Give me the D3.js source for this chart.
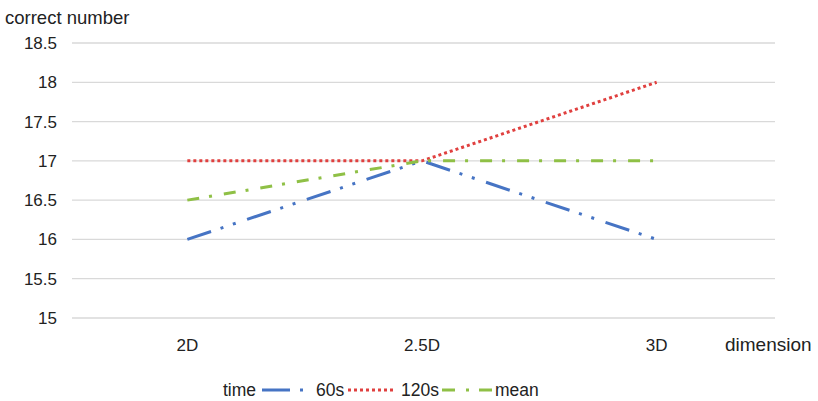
<!DOCTYPE html>
<html>
<head>
<meta charset="utf-8">
<script src="https://cdn.jsdelivr.net/npm/d3@7"></script>
<style>
  body { margin: 0; background: #fff; }
  text { font-family: "Liberation Sans", Arial, sans-serif; fill: #222; }
</style>
</head>
<body>
<svg id="chart" width="818" height="401"></svg>
<script>
// Categories along the horizontal axis
const categories = ["2D", "2.5D", "3D"];
// Correct-answer counts per time condition
const series60 = [16, 17, 16];
const series120 = [17, 17, 18];
const seriesMean = [16.5, 17, 17];
const seriesNames = ["60s", "120s", "mean"];
// Value-axis ticks
const yTicks = [15, 15.5, 16, 16.5, 17, 17.5, 18, 18.5];

const svg = d3.select("#chart");
const plotLeft = 72, plotRight = 775, plotTop = 43, plotBottom = 318;

const x = d3.scaleBand().domain(categories).range([70, 774]);
const y = d3.scaleLinear().domain([15, 18.5]).range([plotBottom, plotTop]);

// Gridlines
svg.append("g").selectAll("line").data(yTicks).join("line")
  .attr("x1", plotLeft).attr("x2", plotRight)
  .attr("y1", d => y(d)).attr("y2", d => y(d))
  .attr("stroke", "#d9d9d9").attr("stroke-width", 1.3);

// Y-axis labels
const yAxis = d3.axisLeft(y).tickValues(yTicks).tickSize(0).tickPadding(0)
  .tickFormat(d => String(d));
const gy = svg.append("g").attr("transform", "translate(57,0)").call(yAxis);
gy.select(".domain").remove();
gy.selectAll("text").attr("font-size", 17).attr("fill", "#222")
  .style("font-family", "'Liberation Sans', Arial, sans-serif");

// X-axis labels
const xAxis = d3.axisBottom(x).tickSize(0).tickPadding(0);
const gx = svg.append("g").attr("transform", "translate(0,339)").call(xAxis);
gx.select(".domain").remove();
gx.selectAll("text").attr("font-size", 17).attr("fill", "#222")
  .style("font-family", "'Liberation Sans', Arial, sans-serif");

// Axis titles
svg.append("text").attr("x", 5).attr("y", 24).attr("font-size", 18.5)
  .text("correct number");
svg.append("text").attr("x", 725).attr("y", 351).attr("font-size", 19)
  .text("dimension");

const styles = [
  { data: series60, color: "#4674c4", dash: "25 10 3 10 3 12" },
  { data: series120, color: "#e0403f", dash: "3 3" },
  { data: seriesMean, color: "#8fc046", dash: "12 10 3 12" }
];

const line = d3.line()
  .x((d, i) => x(categories[i]) + x.bandwidth() / 2)
  .y(d => y(d));

styles.forEach(s => {
  svg.append("path").datum(s.data)
    .attr("d", line)
    .attr("fill", "none")
    .attr("stroke", s.color)
    .attr("stroke-width", 3)
    .attr("stroke-dasharray", s.dash);
});

// Legend
const lg = svg.append("g").attr("transform", "translate(0,390)");
lg.append("text").attr("x", 223).attr("y", 6).attr("font-size", 17.5).text("time");
const legendItems = [
  { x0: 262, x1: 304, tx: 316, dash: "28 10 3 30" },
  { x0: 348, x1: 393, tx: 401, dash: "3 3" },
  { x0: 442, x1: 492, tx: 495, dash: "13 11 3 10 13" }
];
legendItems.forEach((it, i) => {
  lg.append("line").attr("x1", it.x0).attr("x2", it.x1).attr("y1", 0).attr("y2", 0)
    .attr("stroke", styles[i].color).attr("stroke-width", 3)
    .attr("stroke-dasharray", it.dash);
  lg.append("text").attr("x", it.tx).attr("y", 6).attr("font-size", 17.5).text(seriesNames[i]);
});
</script>
</body>
</html>
